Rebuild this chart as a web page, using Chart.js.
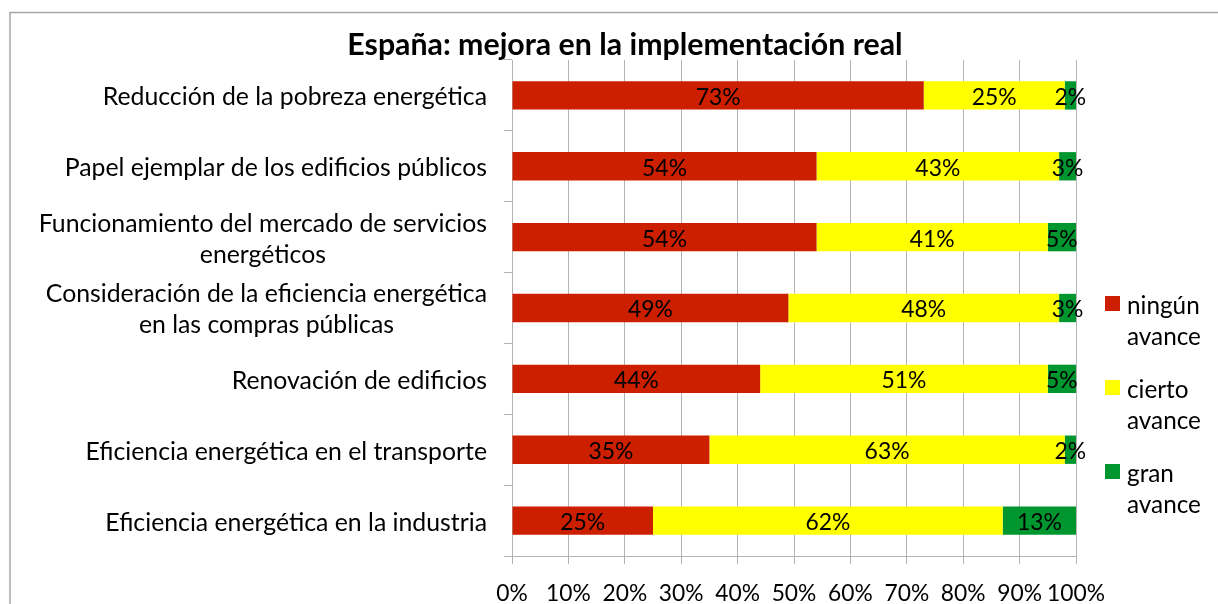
<!DOCTYPE html>
<html>
<head>
<meta charset="utf-8">
<script src="https://cdn.jsdelivr.net/npm/chart.js@4.4.1/dist/chart.umd.min.js"></script>
<style>
  html, body { margin: 0; padding: 0; background: #ffffff; }
  canvas { display: block; }
</style>
</head>
<body>
<canvas id="c" width="1218" height="604"></canvas>
<script>
// ---- data ----
const titleText = 'España: mejora en la implementación real';
const categories = [
  ['Reducción de la pobreza energética'],
  ['Papel ejemplar de los edificios públicos'],
  ['Funcionamiento del mercado de servicios', 'energéticos'],
  ['Consideración de la eficiencia energética', 'en las compras públicas'],
  ['Renovación de edificios'],
  ['Eficiencia energética en el transporte'],
  ['Eficiencia energética en la industria']
];
const ningunAvance = [73, 54, 54, 49, 44, 35, 25];
const ciertoAvance = [25, 43, 41, 48, 51, 63, 62];
const granAvance   = [2, 3, 5, 3, 5, 2, 13];
const seriesNames = ['ningún avance', 'cierto avance', 'gran avance'];
const legendLines = [['ningún', 'avance'], ['cierto', 'avance'], ['gran', 'avance']];
const xTickLabels = ['0%', '10%', '20%', '30%', '40%', '50%', '60%', '70%', '80%', '90%', '100%'];

// ---- styles ----
const FAMILY = 'Lato, "Open Sans", sans-serif';
const colors = ['#cc1f00', '#ffff00', '#00962f'];
const gridColor = '#b3b3b3';

function fitSize(text, target, weight) {
  const ctx = document.createElement('canvas').getContext('2d');
  ctx.font = weight + ' 100px ' + FAMILY;
  return Math.round(10 * 100 * target / ctx.measureText(text).width) / 10;
}
const catSize = fitSize('Reducción de la pobreza energética', 384, 'normal');
const titleSize = fitSize(titleText, 556, 'bold');
const valSize = fitSize('73%', 45, 'normal');
const tickSize = fitSize('100%', 58, 'normal');
const legSize = fitSize('avance', 74, 'normal');

const LEFT_PAD = 32, PLOT_LEFT = 512, PLOT_RIGHT = 1076, PLOT_TOP = 60, PLOT_BOTTOM = 556;
const W = 1218, H = 604;

const titleLH = titleSize * 1.2;
const titleTopPad = Math.round(45 - titleLH / 2);
const titleBottomPad = PLOT_TOP - titleTopPad - titleLH;

const framePlugin = {
  id: 'frame',
  beforeDraw(chart) {
    const ctx = chart.ctx;
    ctx.save();
    ctx.strokeStyle = '#a6a6a6';
    ctx.lineWidth = 1.5;
    ctx.strokeRect(10, 12.5, 2000, 2000);
    ctx.restore();
  }
};

const catLabelPlugin = {
  id: 'catLabels',
  afterDraw(chart) {
    const ctx = chart.ctx;
    const ys = chart.scales.y;
    ctx.save();
    ctx.font = 'normal ' + catSize + 'px ' + FAMILY;
    ctx.fillStyle = '#000';
    ctx.textAlign = 'center';
    ctx.textBaseline = 'middle';
    const right = PLOT_LEFT - 25;
    const lh = 31;
    chart.data.labels.forEach((lines, i) => {
      const yc = ys.getPixelForValue(i) + 2;
      const wMax = Math.max(...lines.map(l => ctx.measureText(l).width));
      const cx = right - wMax / 2;
      const y0 = yc - (lines.length - 1) * lh / 2;
      lines.forEach((l, k) => ctx.fillText(l, cx, y0 + k * lh));
    });
    ctx.restore();
  }
};

const valueLabelPlugin = {
  id: 'valueLabels',
  afterDatasetsDraw(chart) {
    const ctx = chart.ctx;
    ctx.save();
    ctx.font = 'normal ' + valSize + 'px ' + FAMILY;
    ctx.fillStyle = '#000';
    ctx.textAlign = 'center';
    ctx.textBaseline = 'middle';
    chart.data.datasets.forEach((ds, di) => {
      const meta = chart.getDatasetMeta(di);
      meta.data.forEach((el, i) => {
        const p = el.getProps(['x', 'base', 'y'], true);
        ctx.fillText(ds.data[i] + '%', (p.x + p.base) / 2, p.y + 2);
      });
    });
    ctx.restore();
  }
};

const legendPlugin = {
  id: 'customLegend',
  afterDraw(chart) {
    const ctx = chart.ctx;
    ctx.save();
    ctx.font = 'normal ' + legSize + 'px ' + FAMILY;
    ctx.textAlign = 'left';
    ctx.textBaseline = 'alphabetic';
    chart.data.datasets.forEach((ds, i) => {
      const top = 296 + 84 * i;
      ctx.fillStyle = ds.backgroundColor;
      ctx.fillRect(1105, top, 15, 15);
      ctx.fillStyle = '#000';
      legendLines[i].forEach((l, k) => ctx.fillText(l, 1127, top + 18 + k * 31));
    });
    ctx.restore();
  }
};

new Chart(document.getElementById('c'), {
  type: 'bar',
  data: {
    labels: categories,
    datasets: [
      { label: seriesNames[0], data: ningunAvance, backgroundColor: colors[0] },
      { label: seriesNames[1], data: ciertoAvance, backgroundColor: colors[1] },
      { label: seriesNames[2], data: granAvance, backgroundColor: colors[2] }
    ].map(d => Object.assign(d, { xAxisID: 'x', yAxisID: 'y', borderWidth: 0, barPercentage: 0.4, categoryPercentage: 1.0 }))
  },
  options: {
    indexAxis: 'y',
    responsive: false,
    animation: false,
    layout: { padding: { left: LEFT_PAD, right: 0, top: 0, bottom: 0 } },
    plugins: {
      legend: { display: false },
      tooltip: { enabled: false },
      title: {
        display: true,
        text: titleText,
        color: '#000',
        font: { family: FAMILY, size: titleSize, weight: 'bold', lineHeight: 1.2 },
        padding: { top: titleTopPad, bottom: titleBottomPad }
      }
    },
    scales: {
      x: {
        stacked: true,
        min: 0, max: 100,
        position: 'bottom',
        ticks: {
          stepSize: 10,
          color: '#000',
          padding: 16,
          maxRotation: 0,
          autoSkip: false,
          font: { family: FAMILY, size: tickSize },
          callback: (v, i) => xTickLabels[i]
        },
        grid: { color: gridColor, lineWidth: 1, tickLength: 8, drawTicks: true },
        border: { display: true, color: gridColor, width: 1 },
        afterFit: s => { s.height = H - PLOT_BOTTOM; }
      },
      y: {
        stacked: true,
        position: 'left',
        ticks: { display: false },
        grid: { offset: true, drawOnChartArea: false, drawTicks: true, tickLength: 8, color: gridColor },
        border: { display: true, color: gridColor, width: 1 },
        afterFit: s => { s.width = PLOT_LEFT - LEFT_PAD; }
      },
      yRight: {
        type: 'linear',
        position: 'right',
        display: true,
        ticks: { display: false },
        grid: { display: false },
        border: { display: false },
        afterFit: s => { s.width = W - PLOT_RIGHT; }
      }
    }
  },
  plugins: [framePlugin, valueLabelPlugin, catLabelPlugin, legendPlugin]
});
</script>
</body>
</html>
